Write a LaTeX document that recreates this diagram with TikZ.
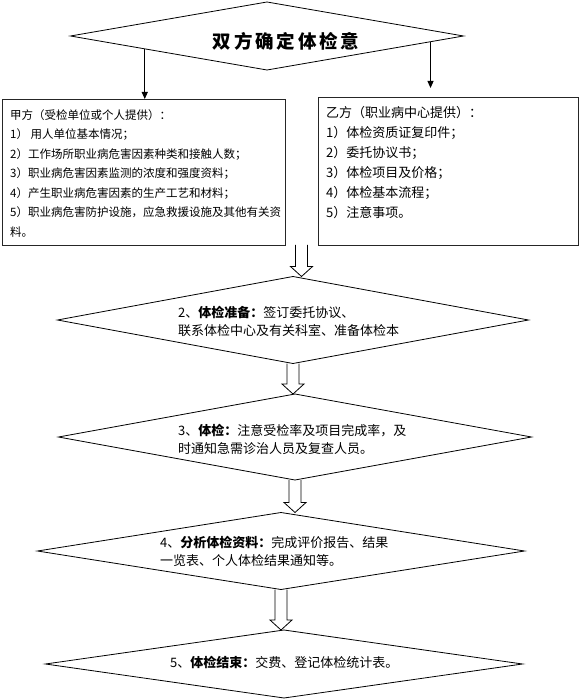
\documentclass[tikz,border=0pt]{standalone}
\usepackage{fontspec}
\setmainfont{Noto Sans CJK SC}
\usetikzlibrary{arrows.meta,shapes.geometric,calc}

\newcommand{\hollowdown}[2]{%
  \draw[hollow] let \p1=(#1), \p2=(#2) in
    (\x1-6pt,\y1) -- (\x1-6pt,\y2+10pt) -- (\x1-11pt,\y2+10pt) -- (\x1,\y2)
    -- (\x1+11pt,\y2+10pt) -- (\x1+6pt,\y2+10pt) -- (\x1+6pt,\y1);}

\begin{document}
\begin{tikzpicture}[
  x=1pt,y=-1pt,
  gate/.style={diamond, draw=black, line width=0.8pt, inner sep=0pt, outer sep=0pt},
  panel/.style={rectangle, draw=black!85, line width=0.9pt, inner sep=0pt, outer sep=0pt},
  titletext/.style={font=\fontsize{18.5}{20}\selectfont\bfseries\addfontfeatures{LetterSpace=15}, inner sep=0pt},
  steptext/.style={font=\fontsize{13}{18}\selectfont, align=left, inner sep=0pt},
  ltext/.style={font=\fontsize{11.5}{19.5}\selectfont, align=left, inner sep=0pt, anchor=north west},
  rtext/.style={font=\fontsize{13}{20}\selectfont, align=left, inner sep=0pt, anchor=north west},
  link/.style={-{Triangle[length=7pt,width=6pt]}, line width=0.9pt},
  hollow/.style={draw=black, line width=0.8pt}
]
  \useasboundingbox (0,0) rectangle (580,700);

  \node[gate, minimum width=393, minimum height=68] (agree) at (267,36) {};
  \node[titletext] (agreet) at (286,41) {双方确定体检意};

  \node[panel, minimum width=283, minimum height=146] (lbox) at (143.5,172) {};
  \node[ltext] (lboxt) at (10,109) {甲方（受检单位或个人提供）：\\
  1） 用人单位基本情况；\\
  2）工作场所职业病危害因素种类和接触人数；\\
  3）职业病危害因素监测的浓度和强度资料；\\
  4）产生职业病危害因素的生产工艺和材料；\\
  5）职业病危害防护设施，应急救援设施及其他有关资\\
  料。};

  \node[panel, minimum width=260, minimum height=148] (rbox) at (448,171) {};
  \node[rtext] (rboxt) at (326,106) {乙方（职业病中心提供）：\\
  1）体检资质证复印件；\\
  2）委托协议书；\\
  3）体检项目及价格；\\
  4）体检基本流程；\\
  5）注意事项。};

  \node[gate, minimum width=471, minimum height=87] (prep) at (293,320) {};
  \node[steptext, anchor=west] (prept) at (178,321) {2、\textbf{体检准备：}签订委托协议、\\
  联系体检中心及有关科室、准备体检本};

  \node[gate, minimum width=473, minimum height=86] (exam) at (295,437) {};
  \node[steptext, anchor=west] (examt) at (178,439) {3、\textbf{体检：}注意受检率及项目完成率，及\\
  时通知急需诊治人员及复查人员。};

  \node[gate, minimum width=487, minimum height=77] (analyse) at (281,551) {};
  \node[steptext, anchor=west] (analyset) at (160,551) {4、\textbf{分析体检资料：}完成评价报告、结果\\
  一览表、个人体检结果通知等。};

  \node[gate, minimum width=477, minimum height=68] (finish) at (284,664) {};
  \node[steptext, anchor=west] (finisht) at (170,662) {5、\textbf{体检结束：}交费、登记体检统计表。};

  \draw[link] (agree.186.4) -- (agree.186.4 |- lbox.north);
  \draw[link, shorten >=9pt] (agree.358.1) -- (agree.358.1 |- rbox.north);

  \hollowdown{$(lbox.south east)!0.5!(rbox.south west)$}{prep.north}
  \hollowdown{prep.south}{exam.north}
  \hollowdown{exam.south}{analyse.north}
  \hollowdown{analyse.south}{finish.north}
\end{tikzpicture}
\end{document}
